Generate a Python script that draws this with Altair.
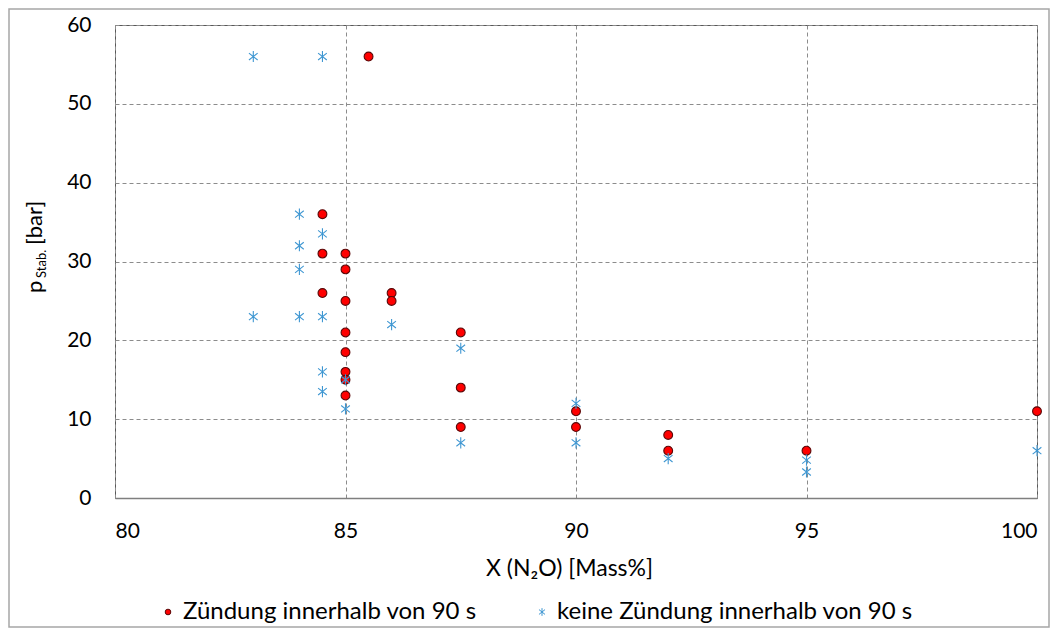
import altair as alt
import pandas as pd

# ---- data ----
ign_x = [85.5, 84.5, 84.5, 84.5, 85, 85, 85, 85, 85, 85, 85, 85,
         86, 86, 87.5, 87.5, 87.5, 90, 90, 92, 92, 95, 100]
ign_y = [56, 36, 31, 26, 31, 29, 25, 21, 18.5, 16, 15, 13,
         26, 25, 21, 14, 9, 11, 9, 8, 6, 6, 11]

no_x = [83, 84.5, 84, 84.5, 84, 84, 83, 84, 84.5, 86, 84.5, 84.5,
        85, 85, 87.5, 87.5, 90, 90, 92, 95, 95, 100]
no_y = [56, 56, 36, 33.5, 32, 29, 23, 23, 23, 22, 16, 13.5,
        15, 11.3, 19, 7, 12, 7, 5, 4.8, 3.3, 6]

series_names = ["Zündung innerhalb von 90 s", "keine Zündung innerhalb von 90 s"]
x_ticks = [80, 85, 90, 95, 100]
y_ticks = [0, 10, 20, 30, 40, 50, 60]

df = pd.DataFrame({
    "x": ign_x + no_x,
    "y": ign_y + no_y,
    "serie": [series_names[0]] * len(ign_x) + [series_names[1]] * len(no_x),
})
df["order"] = range(len(df))
legend_df = pd.DataFrame({"serie": series_names})

FONT = "Lato"
ASTER = "M0,-1L0,1M-0.78,-0.62L0.78,0.62M-0.78,0.62L0.78,-0.62"
W, H = 922, 473

shape_enc = alt.Shape("serie:N", scale=alt.Scale(domain=series_names, range=["circle", ASTER]), legend=None)
fill_enc = alt.Fill("serie:N", scale=alt.Scale(domain=series_names, range=["#ff0000", "#3f97d2"]), legend=None)
stroke_enc = alt.Stroke("serie:N", scale=alt.Scale(domain=series_names, range=["#5a0808", "#3f97d2"]), legend=None)

points = alt.Chart(df).mark_point(filled=True, opacity=1, strokeWidth=1.1).encode(
    x=alt.X("x:Q", scale=alt.Scale(domain=[80, 100], nice=False, zero=False),
            axis=alt.Axis(values=x_ticks, format="d", title="X (N₂O) [Mass%]",
                          titleX=454, titleY=77, titleBaseline="alphabetic",
                          labelPadding=22, domainColor="#7f7f7f", domainWidth=1.5)),
    y=alt.Y("y:Q", scale=alt.Scale(domain=[0, 60], nice=False),
            axis=alt.Axis(values=y_ticks, format="d", title=None, labelPadding=24,
                          domain=False)),
    shape=shape_enc, fill=fill_enc, stroke=stroke_enc,
    size=alt.Size("serie:N", scale=alt.Scale(domain=series_names, range=[78, 125]), legend=None),
    order=alt.Order("order:Q"),
)

one = pd.DataFrame({"t": [0]})

border = alt.Chart(one).mark_rect(fill="transparent", stroke="#a6a6a6", strokeWidth=1.5).encode(
    x=alt.value(-106), x2=alt.value(934), y=alt.value(-16), y2=alt.value(602)
)


def ytxt(text, x, y, size):
    return alt.Chart(one).mark_text(
        text=text, angle=270, align="left", baseline="alphabetic",
        font=FONT, fontSize=size, color="#000000"
    ).encode(x=alt.value(x), y=alt.value(y))


ytitle = ytxt("p", -73, 268, 22) + ytxt("Stab.", -69, 253, 13) + ytxt("[bar]", -73, 220, 22)

# legend built from the same scales
LEG_Y = 587
leg_pos = [(53, 32), (427, 60)]
legend_layers = []
for name, (px, sz) in zip(series_names, leg_pos):
    base = alt.Chart(legend_df).transform_filter(alt.datum.serie == name)
    legend_layers.append(
        base.mark_point(filled=True, opacity=1, strokeWidth=1.0).encode(
            x=alt.value(px), y=alt.value(LEG_Y), shape=shape_enc, fill=fill_enc,
            stroke=stroke_enc, size=alt.value(sz))
    )
    legend_layers.append(
        base.mark_text(align="left", baseline="middle", font=FONT, fontSize=24,
                       color="#000000").encode(
            x=alt.value(px + 15), y=alt.value(LEG_Y), text="serie:N")
    )

chart = alt.layer(border, points, ytitle, *legend_layers).properties(
    width=W, height=H,
    padding={"left": 107, "top": 17, "right": 14, "bottom": 131},
    autosize=alt.AutoSizeParams(type="none"),
).configure_view(
    stroke="#595959", strokeWidth=1
).configure_axis(
    labelFont=FONT, labelFontSize=21, labelColor="#000000",
    titleFont=FONT, titleFontSize=23, titleColor="#000000", titleFontWeight="normal",
    ticks=False, grid=True, gridColor="#8c8c8c", gridDash=[4, 3], gridWidth=1,
)

chart.save("out.html", embed_options={"renderer": "svg", "actions": False})
